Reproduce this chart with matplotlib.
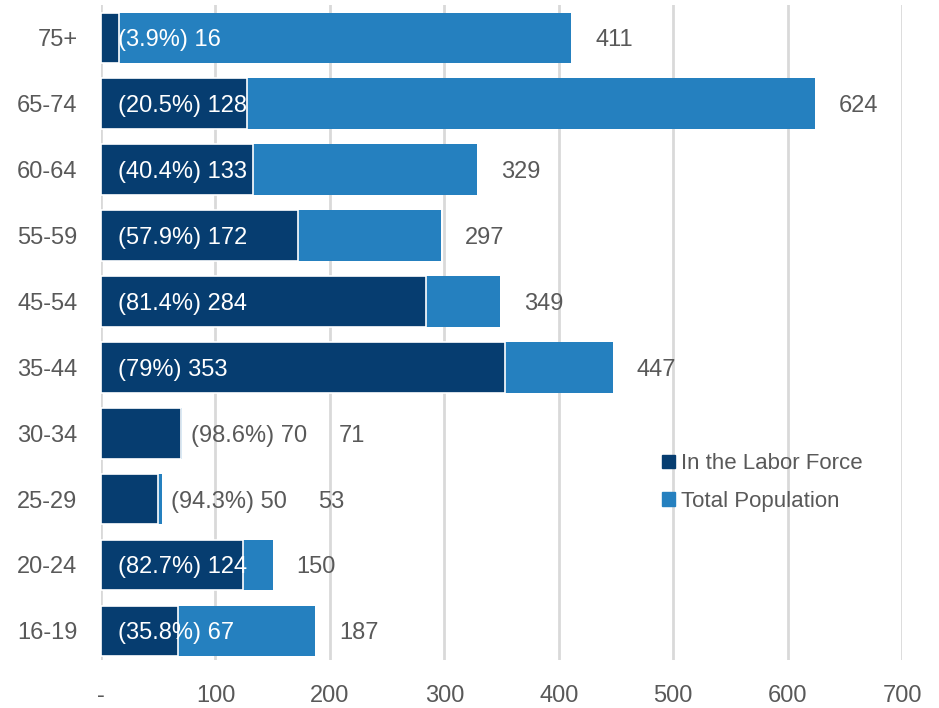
import matplotlib.pyplot as plt
from matplotlib.patches import Patch
import matplotlib.transforms as mtransforms

plt.rcParams['font.family'] = ['Liberation Sans', 'DejaVu Sans']

ages = ['16-19', '20-24', '25-29', '30-34', '35-44', '45-54', '55-59', '60-64', '65-74', '75+']
labor = [67, 124, 50, 70, 353, 284, 172, 133, 128, 16]
total = [187, 150, 53, 71, 447, 349, 297, 329, 624, 411]
share = ['35.8%', '82.7%', '94.3%', '98.6%', '79%', '81.4%', '57.9%', '40.4%', '20.5%', '3.9%']
outside = [False, False, True, True, False, False, False, False, False, False]

dark = '#063d70'
light = '#2580bf'
grey = '#595959'
fs = 17

fig = plt.figure(figsize=(9.39, 7.08), dpi=100)
ax = fig.add_axes([0.1076, 0.068, 0.853, 0.925])

y = range(len(ages))
ax.barh(y, total, height=0.77, color=light, zorder=2)
ax.barh(y, labor, height=0.77, color=dark, edgecolor='white', linewidth=1.2, zorder=3)

for i in y:
    txt = '(%s) %d' % (share[i], labor[i])
    if outside[i]:
        tr = mtransforms.offset_copy(ax.transData, fig=fig, x=9, y=0, units='dots')
        ax.text(total[i], i, txt, transform=tr, color=grey, fontsize=fs, va='center_baseline', ha='left', zorder=4)
        tr2 = mtransforms.offset_copy(ax.transData, fig=fig, x=156, y=0, units='dots')
        ax.text(total[i], i, str(total[i]), transform=tr2, color=grey, fontsize=fs, va='center_baseline', ha='left', zorder=4)
    else:
        tr = mtransforms.offset_copy(ax.transData, fig=fig, x=17, y=0, units='dots')
        ax.text(0, i, txt, transform=tr, color='white', fontsize=fs, va='center_baseline', ha='left', zorder=4)
        tr2 = mtransforms.offset_copy(ax.transData, fig=fig, x=24, y=0, units='dots')
        ax.text(total[i], i, str(total[i]), transform=tr2, color=grey, fontsize=fs, va='center_baseline', ha='left', zorder=4)

ax.set_xlim(0, 700)
ax.set_ylim(-0.44, 9.5)
ax.set_yticks(list(y))
ax.set_yticklabels(ages, va='center_baseline')
ax.set_xticks(range(0, 701, 100))
ax.set_xticklabels(['-'] + [str(v) for v in range(100, 701, 100)])
ax.tick_params(axis='both', length=0, labelsize=fs, labelcolor=grey)
ax.tick_params(axis='y', pad=17)
ax.tick_params(axis='x', pad=18)
ax.xaxis.grid(True, color='#d9d9d9', linewidth=2, zorder=0)
ax.set_axisbelow(True)
for s in ax.spines.values():
    s.set_visible(False)

handles = [Patch(color=dark, label='In the Labor Force'), Patch(color=light, label='Total Population')]
leg = ax.legend(handles=handles, loc='upper left', bbox_to_anchor=(0.676, 0.346), frameon=False,
                fontsize=16, handlelength=0.55, handleheight=0.55, handletextpad=0.3, labelspacing=0.75,
                labelcolor=grey)

fig.savefig('out.png', dpi=100)
